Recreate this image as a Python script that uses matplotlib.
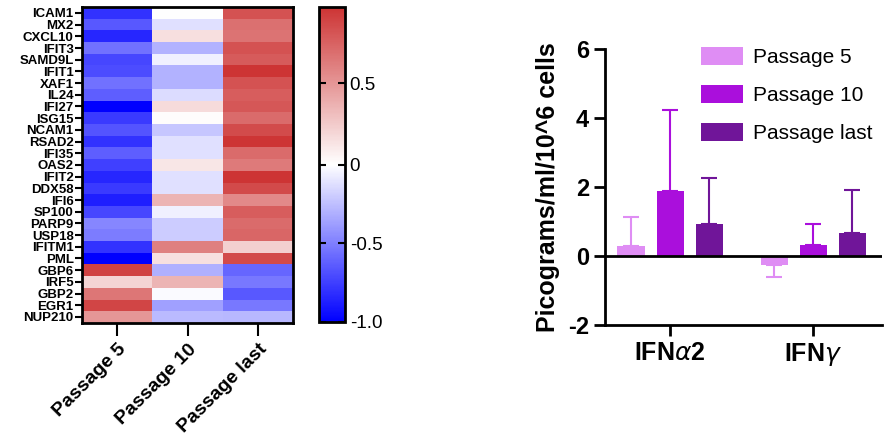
import numpy as np
import matplotlib
matplotlib.use("Agg")
import matplotlib.pyplot as plt
from matplotlib.colors import LinearSegmentedColormap, TwoSlopeNorm

plt.rcParams['font.family'] = ['Liberation Sans', 'DejaVu Sans']
plt.rcParams['axes.unicode_minus'] = False

# heatmap data
genes = ["ICAM1", "MX2", "CXCL10", "IFIT3", "SAMD9L", "IFIT1", "XAF1", "IL24",
         "IFI27", "ISG15", "NCAM1", "RSAD2", "IFI35", "OAS2", "IFIT2", "DDX58",
         "IFI6", "SP100", "PARP9", "USP18", "IFITM1", "PML", "GBP6", "IRF5",
         "GBP2", "EGR1", "NUP210"]
passages = ["Passage 5", "Passage 10", "Passage last"]
p5 = [-0.80, -0.65, -0.85, -0.55, -0.72, -0.70, -0.55, -0.63, -1.00, -0.77,
      -0.67, -0.80, -0.63, -0.75, -0.85, -0.77, -0.88, -0.72, -0.47, -0.51,
      -0.80, -1.00, 0.90, 0.20, 0.65, 0.88, 0.50]
p10 = [0.00, -0.12, 0.15, -0.30, -0.06, -0.30, -0.30, -0.14, 0.17, 0.01,
       -0.22, -0.12, -0.12, 0.12, -0.12, -0.12, 0.35, -0.06, -0.20, -0.20,
       0.60, 0.15, -0.31, 0.35, -0.02, -0.37, -0.27]
plast = [0.82, 0.68, 0.66, 0.82, 0.78, 0.97, 0.82, 0.77, 0.80, 0.70,
         0.85, 0.96, 0.70, 0.63, 0.97, 0.86, 0.56, 0.77, 0.70, 0.72,
         0.22, 0.86, -0.60, -0.53, -0.65, -0.53, -0.28]

# bar data
cytokines = [r"IFN$\alpha$2", r"IFN$\gamma$"]
bar_p5 = [0.28, -0.25]
bar_p10 = [1.88, 0.33]
bar_plast = [0.93, 0.66]
err_p5 = [0.84, 0.35]
err_p10 = [2.34, 0.59]
err_plast = [1.32, 1.26]

fig = plt.figure(figsize=(8.91, 4.44), dpi=100)

# ---- heatmap ----
cmap = LinearSegmentedColormap.from_list("bwr2", ["#0000FF", "#FFFFFF", "#CD3434"])
norm = TwoSlopeNorm(vmin=-1.0, vcenter=0.0, vmax=0.97)
data = np.array([p5, p10, plast]).T

ax1 = fig.add_axes([0.092, 0.273, 0.237, 0.711])
im = ax1.imshow(data, cmap=cmap, norm=norm, aspect='auto', interpolation='nearest')
ax1.set_yticks(range(len(genes)))
ax1.set_yticklabels(genes, fontsize=9.5, fontweight='bold')
ax1.set_xticks(range(len(passages)))
ax1.set_xticklabels(passages, rotation=45, ha='right', rotation_mode='anchor',
                    fontsize=14, fontweight='bold')
ax1.tick_params(axis='y', length=5, width=1.5, pad=1)
ax1.tick_params(axis='x', length=9, width=1.5, pad=4)
for s in ax1.spines.values():
    s.set_linewidth(2)

cax = fig.add_axes([0.358, 0.275, 0.029, 0.709])
cb = fig.colorbar(im, cax=cax, ticks=[-1.0, -0.5, 0, 0.5])
cb.ax.set_yticklabels(["-1.0", "-0.5", "0", "0.5"], fontsize=13.5)
cb.ax.yaxis.set_ticks_position('both')
cb.ax.tick_params(direction='in', length=5, width=1.5, labelleft=False, labelright=True)
cb.outline.set_linewidth(2)

# ---- bar chart ----
ax2 = fig.add_axes([0.679, 0.268, 0.311, 0.622])
x = np.arange(len(cytokines))
off = 0.273
w = 0.19
cols = ["#DF8DF4", "#AA0FDC", "#701599"]
series = [(bar_p5, err_p5, "Passage 5"), (bar_p10, err_p10, "Passage 10"),
          (bar_plast, err_plast, "Passage last")]
for i, (vals, errs, lab) in enumerate(series):
    pos = x + (i - 1) * off
    ax2.bar(pos, vals, width=w, color=cols[i], label=lab, zorder=2)
    lo = [e if v < 0 else 0 for v, e in zip(vals, errs)]
    hi = [e if v >= 0 else 0 for v, e in zip(vals, errs)]
    ax2.errorbar(pos, vals, yerr=[lo, hi], fmt='none', ecolor=cols[i],
                 elinewidth=1.5, capsize=6, capthick=1.5, zorder=1)
ax2.axhline(0, color='black', lw=2, zorder=3)
ax2.set_xlim(-0.455, 1.48)
ax2.set_ylim(-2, 6)
ax2.set_yticks([-2, 0, 2, 4, 6])
ax2.set_xticks(x)
ax2.set_xticklabels(cytokines, fontsize=18, fontweight='bold')
for t in ax2.get_yticklabels():
    t.set_fontweight('bold')
    t.set_fontsize(17)
ax2.set_ylabel("Picograms/ml/10^6 cells", fontsize=18, fontweight='bold', labelpad=6)
ax2.spines['top'].set_visible(False)
ax2.spines['right'].set_visible(False)
ax2.spines['left'].set_linewidth(2)
ax2.spines['bottom'].set_linewidth(2)
ax2.tick_params(axis='both', length=8, width=2)
ax2.legend(loc='upper left', bbox_to_anchor=(0.295, 1.06), frameon=False,
           fontsize=15, handlelength=2.0, handleheight=0.95, labelspacing=0.85,
           handletextpad=0.5, borderaxespad=0.3)

fig.savefig("out.png", dpi=100)
